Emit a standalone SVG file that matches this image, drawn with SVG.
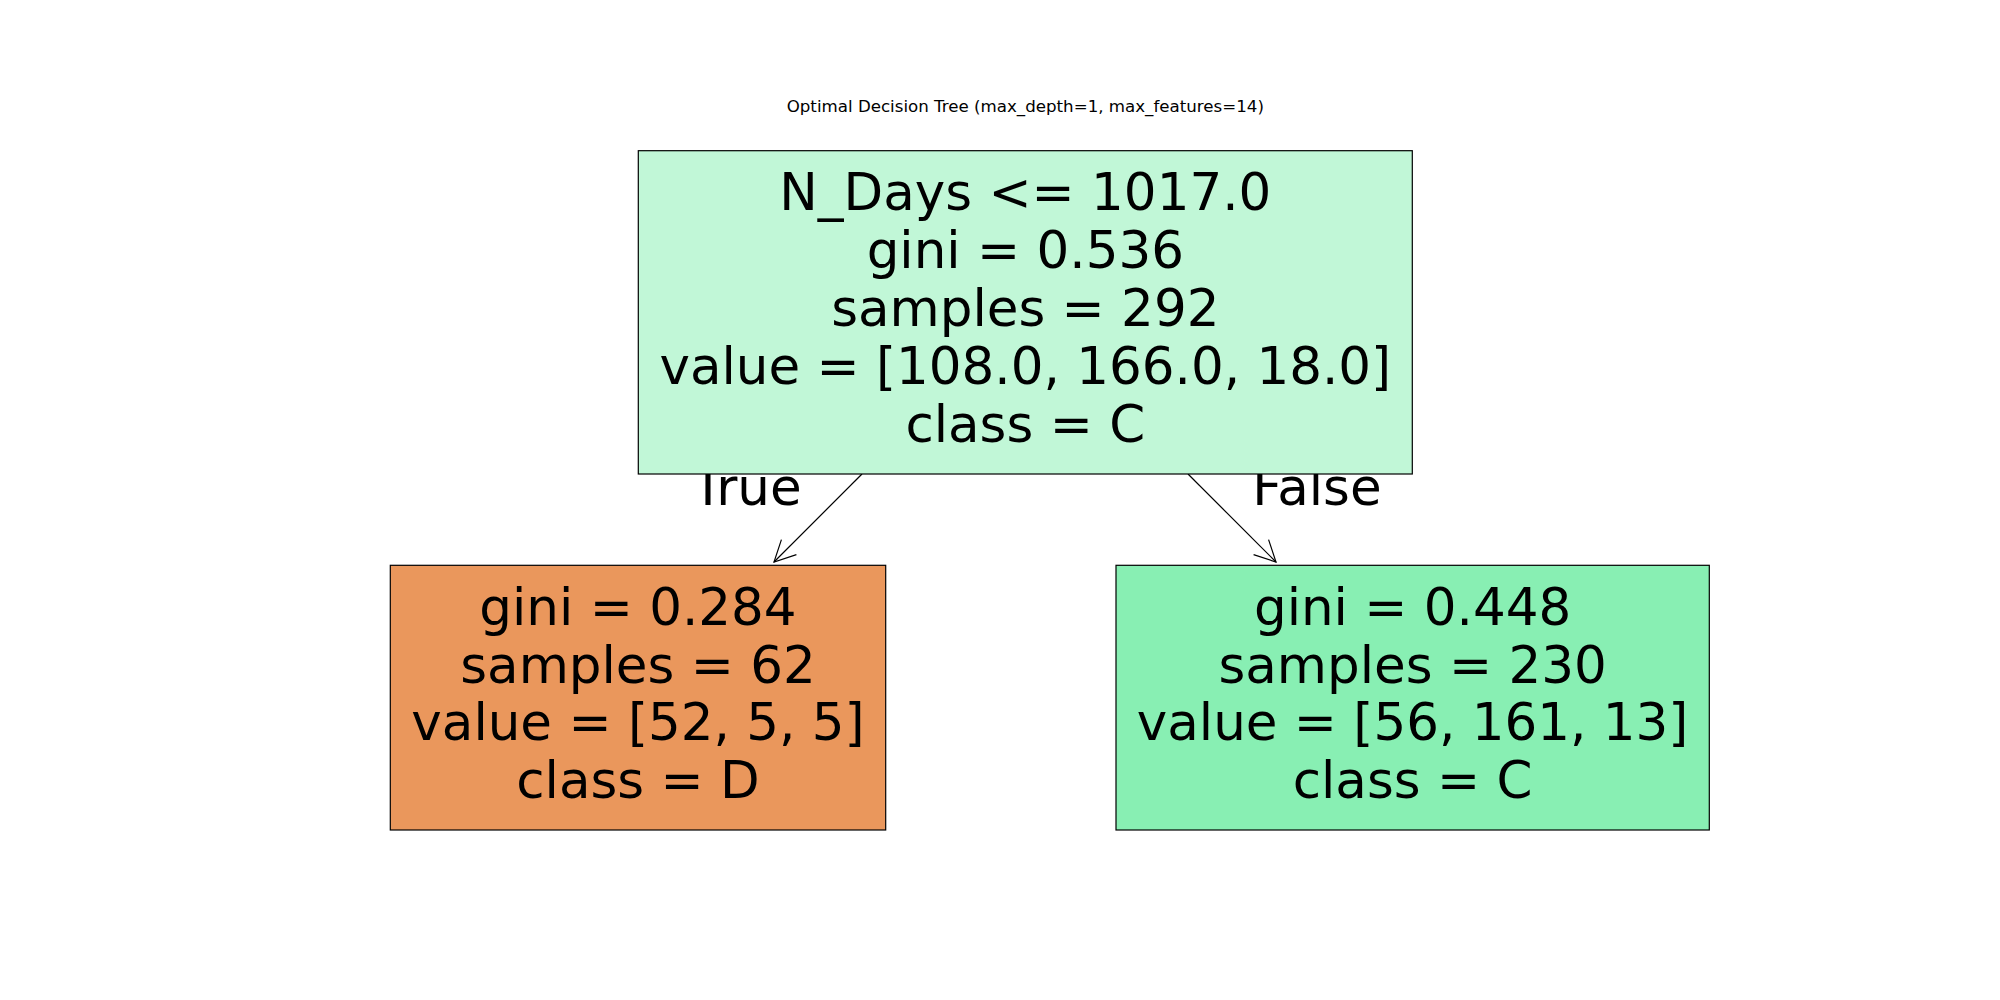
<svg xmlns="http://www.w3.org/2000/svg" width="2000" height="1000" viewBox="0 0 2000 1000">
<defs>
<style>
.box{stroke:#000;stroke-width:1.2}
.t{font-family:"DejaVu Sans",sans-serif;font-size:51.5px;fill:#000;text-anchor:middle}
.title{font-family:"DejaVu Sans",sans-serif;font-size:16.67px;fill:#000;text-anchor:middle}
.edge{stroke:#000;stroke-width:1.2;fill:none}
</style>
<marker id="ah" markerUnits="userSpaceOnUse" markerWidth="40" markerHeight="40" viewBox="-30 -20 40 40" refX="0" refY="0" orient="auto">
<path d="M-21.1,-10.6 L0,0 L-21.1,10.6" fill="none" stroke="#000" stroke-width="1.2"/>
</marker>
</defs>
<rect width="2000" height="1000" fill="#fff"/>
<text class="title" x="1025.3" y="112">Optimal Decision Tree (max_depth=1, max_features=14)</text>
<g id="edges">
<line class="edge" x1="862" y1="474" x2="774" y2="562" marker-end="url(#ah)"/>
<line class="edge" x1="1188" y1="474" x2="1276" y2="562" marker-end="url(#ah)"/>
<text class="t" x="747" y="505">True</text>
<text class="t" x="1317" y="505">False</text>
</g>
<g id="root">
<rect class="box" x="638.3" y="150.7" width="774" height="323.3" fill="#c1f7d7"/>
<text class="t" x="1025.3" y="210">N_Days &lt;= 1017.0</text>
<text class="t" x="1025.3" y="268">gini = 0.536</text>
<text class="t" x="1025.3" y="326">samples = 292</text>
<text class="t" x="1025.3" y="384">value = [108.0, 166.0, 18.0]</text>
<text class="t" x="1025.3" y="442">class = C</text>
</g>
<g id="left">
<rect class="box" x="390.3" y="565.3" width="495.4" height="264.7" fill="#ea975c"/>
<text class="t" x="638" y="625">gini = 0.284</text>
<text class="t" x="638" y="683">samples = 62</text>
<text class="t" x="638" y="740">value = [52, 5, 5]</text>
<text class="t" x="638" y="798">class = D</text>
</g>
<g id="right">
<rect class="box" x="1116" y="565.3" width="593.3" height="264.7" fill="#88efb3"/>
<text class="t" x="1412.6" y="625">gini = 0.448</text>
<text class="t" x="1412.6" y="683">samples = 230</text>
<text class="t" x="1412.6" y="740">value = [56, 161, 13]</text>
<text class="t" x="1412.6" y="798">class = C</text>
</g>
</svg>
